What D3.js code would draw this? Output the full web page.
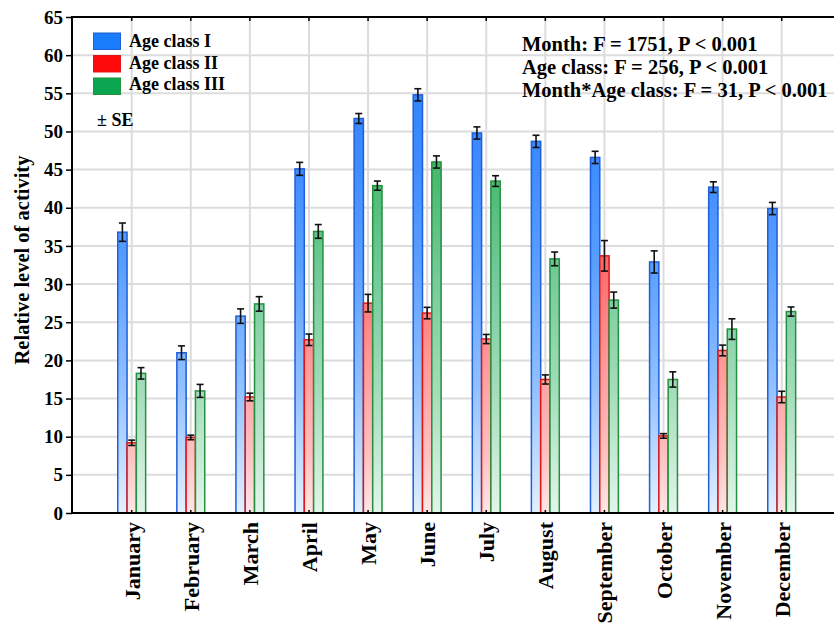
<!DOCTYPE html>
<html>
<head>
<meta charset="utf-8">
<script src="https://cdn.jsdelivr.net/npm/d3@7"></script>
<style>
  html, body { margin: 0; padding: 0; background: #fff; }
  svg text { font-family: "Liberation Serif", "Times New Roman", Tinos, "DejaVu Serif", serif; font-weight: bold; fill: #000; }
</style>
</head>
<body>
<svg id="chart" width="834" height="628"></svg>
<script>
const months = ["January","February","March","April","May","June","July","August","September","October","November","December"];
const seriesNames = ["Age class I","Age class II","Age class III"];
const ageI    = [36.8, 21.0, 25.8, 45.1, 51.7, 54.8, 49.8, 48.7, 46.6, 32.9, 42.7, 39.9];
const ageIse  = [1.2, 0.9, 0.95, 0.85, 0.65, 0.8, 0.8, 0.8, 0.8, 1.45, 0.7, 0.8];
const ageII   = [9.2, 9.9, 15.2, 22.7, 27.5, 26.2, 22.8, 17.5, 33.7, 10.1, 21.3, 15.2];
const ageIIse = [0.35, 0.3, 0.5, 0.75, 1.15, 0.75, 0.6, 0.6, 2.0, 0.3, 0.7, 0.75];
const ageIII  = [18.3, 16.0, 27.4, 36.9, 42.9, 46.0, 43.5, 33.3, 27.9, 17.5, 24.1, 26.4];
const ageIIIse= [0.75, 0.85, 0.95, 0.9, 0.6, 0.8, 0.7, 0.9, 1.05, 1.0, 1.35, 0.6];
const yTicks = [0,5,10,15,20,25,30,35,40,45,50,55,60,65];
const statsLines = ["Month: F = 1751, P < 0.001","Age class: F = 256, P < 0.001","Month*Age class: F = 31, P < 0.001"];

(function () {
const values = [ageI, ageII, ageIII];
const errors = [ageIse, ageIIse, ageIIIse];
const FONT = '"Liberation Serif", "Times New Roman", Tinos, "DejaVu Serif", serif';

const svg = d3.select("#chart");
const pL = 72, pR = 834, pT = 17, pB = 513;

const x = d3.scalePoint().domain(months).range([131.7, 781.7]);
const y = d3.scaleLinear().domain([0, 65]).range([pB, pT]);
const barW = 9.3;
const offsets = [-1.5, -0.5, 0.5];

const defs = svg.append("defs");
const gradStops = [
  [["0","#2a7dfb"],["0.3","#3f8cff"],["0.5","#5a9fff"],["0.75","#93c1ff"],["1","#e4f0ff"]],
  [["0","#ff2424"],["0.35","#ff4a4a"],["0.5","#ff6a6a"],["0.7","#ff9a9a"],["0.88","#ffc0c0"],["1","#ffe6e6"]],
  [["0","#1fa552"],["0.3","#45b86c"],["0.55","#7acca0"],["0.75","#a3dcba"],["1","#e2f5ea"]]
];
const strokeCols = ["#1f5fd8","#e01616","#23913f"];
const legendFill = ["#1a7dfc","#ff0a0a","#0aa650"];
gradStops.forEach((stops, i) => {
  const g = defs.append("linearGradient").attr("id", "g" + i)
    .attr("gradientUnits", "userSpaceOnUse")
    .attr("x1", 0).attr("x2", 0).attr("y1", pT).attr("y2", pB);
  stops.forEach(s => g.append("stop").attr("offset", s[0]).attr("stop-color", s[1]));
});

const grid = svg.append("g");
grid.selectAll("line.h").data(yTicks).join("line").attr("class", "h")
  .attr("x1", pL).attr("x2", pR)
  .attr("y1", d => y(d)).attr("y2", d => y(d))
  .attr("stroke", "#dcdcdc").attr("stroke-width", 2);
grid.selectAll("line.v").data(months).join("line").attr("class", "v")
  .attr("x1", d => x(d)).attr("x2", d => x(d))
  .attr("y1", pT).attr("y2", pB)
  .attr("stroke", "#dcdcdc").attr("stroke-width", 2);

values.forEach((vals, si) => {
  const g = svg.append("g");
  g.selectAll("rect").data(vals).join("rect")
    .attr("x", (d, i) => x(months[i]) + offsets[si] * barW)
    .attr("width", barW)
    .attr("y", d => y(d))
    .attr("height", d => pB - y(d))
    .attr("fill", "url(#g" + si + ")")
    .attr("stroke", strokeCols[si]).attr("stroke-width", 1.5);
});

values.forEach((vals, si) => {
  const g = svg.append("g").attr("stroke", "#111").attr("stroke-width", 1.6).attr("fill", "none");
  vals.forEach((v, i) => {
    const cx = x(months[i]) + (offsets[si] + 0.5) * barW;
    const e = errors[si][i];
    const y1 = y(v + e), y2 = y(v - e);
    g.append("line").attr("x1", cx).attr("x2", cx).attr("y1", y1).attr("y2", y2);
    g.append("line").attr("x1", cx - 3.5).attr("x2", cx + 3.5).attr("y1", y1).attr("y2", y1);
    g.append("line").attr("x1", cx - 3.5).attr("x2", cx + 3.5).attr("y1", y2).attr("y2", y2);
  });
});

const yAxis = d3.axisLeft(y).tickValues(yTicks).tickSize(6).tickPadding(3);
const ya = svg.append("g").attr("transform", `translate(${pL},0)`).call(yAxis)
  .attr("font-family", FONT);
ya.select(".domain").remove();
ya.selectAll(".tick line").attr("stroke", "#000").attr("stroke-width", 1.5);
ya.selectAll(".tick text").attr("font-size", 19).attr("font-weight", "bold").attr("fill", "#000");

const xAxis = d3.axisBottom(x).tickSize(0).tickFormat("");
const xa = svg.append("g").attr("transform", `translate(0,${pB})`).call(xAxis);
xa.select(".domain").remove();
svg.append("g").selectAll("line").data(months).join("line")
  .attr("x1", d => x(d)).attr("x2", d => x(d)).attr("y1", pB).attr("y2", pB - 3)
  .attr("stroke", "#000").attr("stroke-width", 1.5);
svg.append("g").selectAll("line").data(months).join("line")
  .attr("x1", d => x(d)).attr("x2", d => x(d)).attr("y1", pT).attr("y2", pT + 4)
  .attr("stroke", "#000").attr("stroke-width", 1.5);

svg.append("line").attr("x1", pL).attr("x2", pL).attr("y1", pT).attr("y2", pB).attr("stroke", "#000").attr("stroke-width", 2);
svg.append("line").attr("x1", pL - 1).attr("x2", pR).attr("y1", pB).attr("y2", pB).attr("stroke", "#000").attr("stroke-width", 2);
svg.append("line").attr("x1", pL - 1).attr("x2", pR).attr("y1", pT).attr("y2", pT).attr("stroke", "#000").attr("stroke-width", 2);

svg.append("g").selectAll("text").data(months).join("text")
  .attr("transform", d => `translate(${x(d) + 8},522) rotate(-90)`)
  .attr("text-anchor", "end")
  .attr("font-size", 22)
  .text(d => d);

svg.append("text")
  .attr("transform", "translate(29,260) rotate(-90)")
  .attr("text-anchor", "middle")
  .attr("font-size", 20.5)
  .text("Relative level of activity");

const leg = svg.append("g");
seriesNames.forEach((n, i) => {
  leg.append("rect").attr("x", 93.5).attr("y", 33 + i * 22.5).attr("width", 27).attr("height", 16.5)
    .attr("fill", legendFill[i]).attr("stroke", strokeCols[i]).attr("stroke-width", 1);
  leg.append("text").attr("x", 129).attr("y", 47 + i * 21.5).attr("font-size", 18).text(n);
});
leg.append("text").attr("x", 97).attr("y", 126).attr("font-size", 18).text("± SE");

svg.append("g").selectAll("text").data(statsLines).join("text")
  .attr("x", 522).attr("y", (d, i) => 51 + i * 22.8)
  .attr("font-size", 20.5)
  .text(d => d);
})();
</script>
</body>
</html>
